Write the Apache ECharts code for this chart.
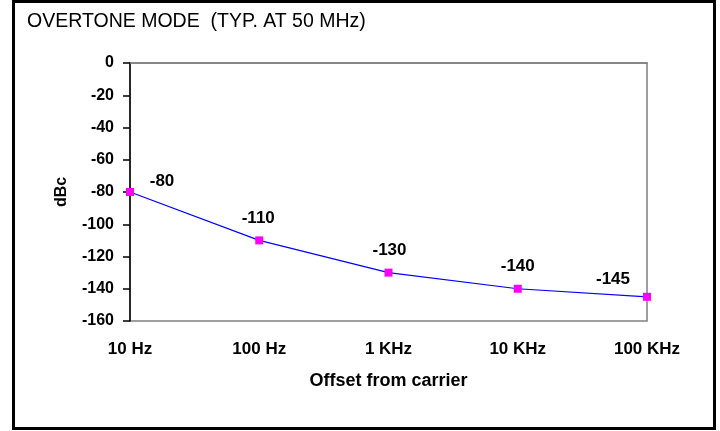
<!DOCTYPE html>
<html>
<head>
<meta charset="utf-8">
<script src="https://cdn.jsdelivr.net/npm/echarts@6/dist/echarts.min.js"></script>
<style>
html,body{margin:0;padding:0;background:#fff;}
#main{width:720px;height:431px;}
</style>
</head>
<body>
<div id="main"></div>
<script>
// 数据
var categories=["10 Hz","100 Hz","1 KHz","10 KHz","100 KHz"];
var dbcValues=[-80,-110,-130,-140,-145];
// 标签偏移
var labelOffsets=[[32,12],[-1,0],[1,0],[0,0],[-34,5]];

var myChart=echarts.init(document.getElementById('main'));

var seriesData=dbcValues.map(function(v,i){
	return {value:v,label:{offset:labelOffsets[i]}};
});

var option={
	animation:false,
	backgroundColor:'#fff',
	textStyle:{fontFamily:'"Liberation Sans", Arial, sans-serif'},
	graphic:[{
		type:'rect',
		shape:{x:13.5,y:1.5,width:701,height:427},
		style:{fill:'none',stroke:'#000',lineWidth:3}
	}],
	title:{
		text:'OVERTONE MODE  (TYP. AT 50 MHz)',
		left:22,top:7,
		textStyle:{fontSize:19.5,fontWeight:'normal',color:'#000',fontFamily:'"Liberation Sans", Arial, sans-serif'}
	},
	grid:{left:130,top:63,width:517,height:258,show:true,borderColor:'#808080',borderWidth:1.5,backgroundColor:'#fff'},
	xAxis:{
		type:'category',
		data:categories,
		boundaryGap:false,
		name:'Offset from carrier',
		nameLocation:'middle',
		nameGap:51,
		nameTextStyle:{fontSize:18,fontWeight:'bold',color:'#000'},
		axisLine:{lineStyle:{color:'#808080',width:1.5}},
		axisTick:{show:false},
		axisLabel:{fontSize:17,fontWeight:'bold',color:'#000',margin:20},
		splitLine:{show:false}
	},
	yAxis:{
		type:'value',
		min:-160,max:0,interval:20,
		name:'dBc',
		nameLocation:'middle',
		nameGap:60,
		nameTextStyle:{fontSize:16,fontWeight:'bold',color:'#000'},
		axisLine:{show:true,lineStyle:{color:'#000',width:1.5}},
		axisTick:{show:true,length:7,lineStyle:{color:'#000',width:1.5}},
		axisLabel:{fontSize:16,fontWeight:'bold',color:'#000',margin:16},
		splitLine:{show:false}
	},
	series:[{
		type:'line',
		data:seriesData,
		symbol:'rect',
		symbolSize:8,
		itemStyle:{color:'#FF00FF'},
		lineStyle:{color:'#0000FF',width:1.2},
		label:{show:true,position:'top',distance:10,fontSize:17,fontWeight:'bold',color:'#000'}
	}]
};
myChart.setOption(option);
</script>
</body>
</html>
